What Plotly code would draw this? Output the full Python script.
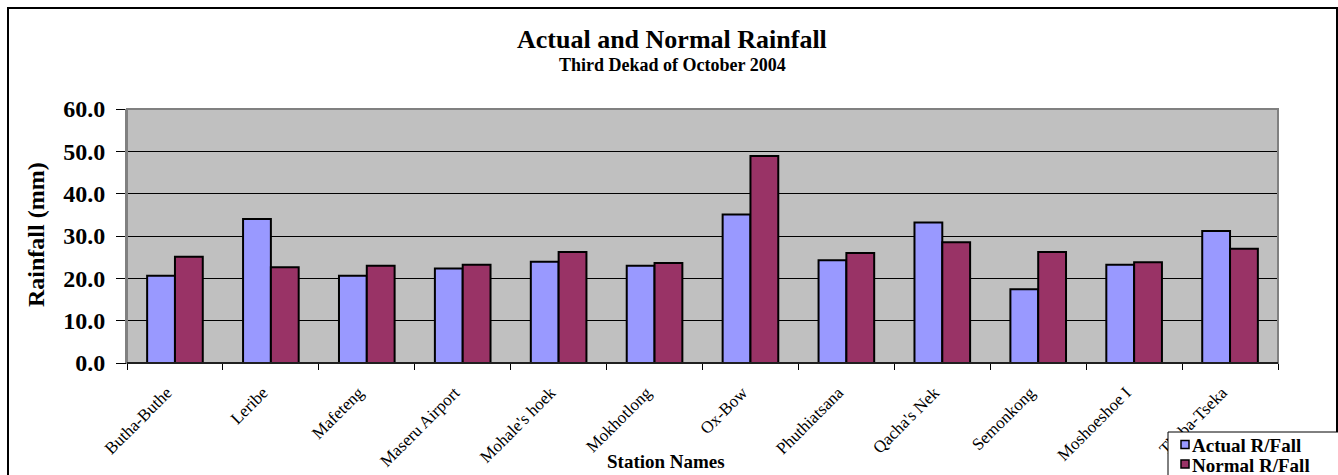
import plotly.graph_objects as go

stations = ["Butha-Buthe", "Leribe", "Mafeteng", "Maseru Airport", "Mohale's hoek",
            "Mokhotlong", "Ox-Bow", "Phuthiatsana", "Qacha's Nek", "Semonkong",
            "Moshoeshoe I", "Thaba-Tseka"]
actual = [20.6, 34.0, 20.6, 22.3, 23.9, 23.0, 35.1, 24.3, 33.2, 17.4, 23.2, 31.2]
normal = [25.1, 22.6, 23.0, 23.2, 26.2, 23.6, 48.9, 26.0, 28.5, 26.2, 23.8, 27.0]
series_names = ["Actual R/Fall", "Normal R/Fall"]
series_colors = ["#9999FF", "#993366"]
y_ticks = [0, 10, 20, 30, 40, 50, 60]

W, H = 1338, 475
L, R, T, B = 127, 1278, 109, 363


def px_x(p):
    return (p - L) / (R - L)


def px_y(p):
    return (B - p) / (B - T)


serif = "Liberation Serif, Times New Roman, serif"

fig = go.Figure()
for name, values, color in zip(series_names, [actual, normal], series_colors):
    fig.add_trace(go.Bar(x=stations, y=values, name=name, showlegend=False,
                         marker=dict(color=color, line=dict(color="black", width=2))))

fig.update_layout(
    width=W, height=H,
    margin=dict(l=L, r=W - R, t=T, b=H - B, autoexpand=False),
    paper_bgcolor="white",
    plot_bgcolor="#C0C0C0",
    barmode="group",
    bargap=0.42,
    bargroupgap=0,
    font=dict(family=serif, color="black"),
    showlegend=False,
)

fig.update_xaxes(
    type="category",
    tickangle=-45,
    tickfont=dict(family=serif, size=17, color="black"),
    ticks="outside", tickson="boundaries", ticklen=6, tickcolor="black",
    ticklabelstandoff=12, ticklabelshift=-8,
    showline=True, linecolor="black", linewidth=1,
    showgrid=False,
)
fig.update_yaxes(
    range=[0, 60],
    tickvals=y_ticks,
    ticktext=[f"{v:.1f}" for v in y_ticks],
    tickfont=dict(family=serif, size=24, color="black", weight="bold"),
    ticks="outside", ticklen=9, tickcolor="black",
    ticklabelstandoff=6,
    showline=True, linecolor="#808080", linewidth=2,
    showgrid=True, gridcolor="black", gridwidth=1,
    zeroline=False,
)

# grey frame around the plotting area
fig.add_shape(type="rect", xref="paper", yref="paper", x0=0, x1=1, y0=0, y1=1,
              line=dict(color="#808080", width=2), layer="above")
# black baseline on top of the frame
fig.add_shape(type="line", xref="paper", yref="paper", x0=0, x1=1, y0=0, y1=0,
              line=dict(color="black", width=1.5), layer="above")
# outer chart border
fig.add_shape(type="rect", xref="paper", yref="paper",
              x0=px_x(8), x1=px_x(1337), y0=px_y(490), y1=px_y(8),
              line=dict(color="black", width=2))

annotations = [
    dict(text="<b>Actual and Normal Rainfall</b>", x=px_x(672), y=px_y(39),
         font=dict(size=26)),
    dict(text="<b>Third Dekad of October 2004</b>", x=px_x(672), y=px_y(65),
         font=dict(size=18)),
    dict(text="<b>Rainfall (mm)</b>", x=px_x(36), y=px_y(235), textangle=-90,
         font=dict(size=24)),
    dict(text="<b>Station Names</b>", x=px_x(666), y=px_y(461),
         font=dict(size=19)),
]
for a in annotations:
    fig.add_annotation(xref="paper", yref="paper", showarrow=False,
                       xanchor="center", yanchor="middle",
                       font_family=serif, font_color="black", **a)

# legend box in the lower right corner
fig.add_shape(type="rect", xref="paper", yref="paper",
              x0=px_x(1168), x1=px_x(1345), y0=px_y(490), y1=px_y(432),
              line=dict(color="black", width=1), fillcolor="white", layer="above")
row_y = [444.5, 464]
for name, color, yc in zip(series_names, series_colors, row_y):
    fig.add_shape(type="rect", xref="paper", yref="paper",
                  x0=px_x(1181), x1=px_x(1189), y0=px_y(yc + 4), y1=px_y(yc - 4),
                  line=dict(color="black", width=1.5), fillcolor=color, layer="above")
    fig.add_annotation(xref="paper", yref="paper", showarrow=False,
                       x=px_x(1190), y=px_y(yc + 1), xanchor="left", yanchor="middle",
                       text=f"<b>{name}</b>",
                       font=dict(family=serif, size=19, color="black"))

fig.write_html("out.html")
